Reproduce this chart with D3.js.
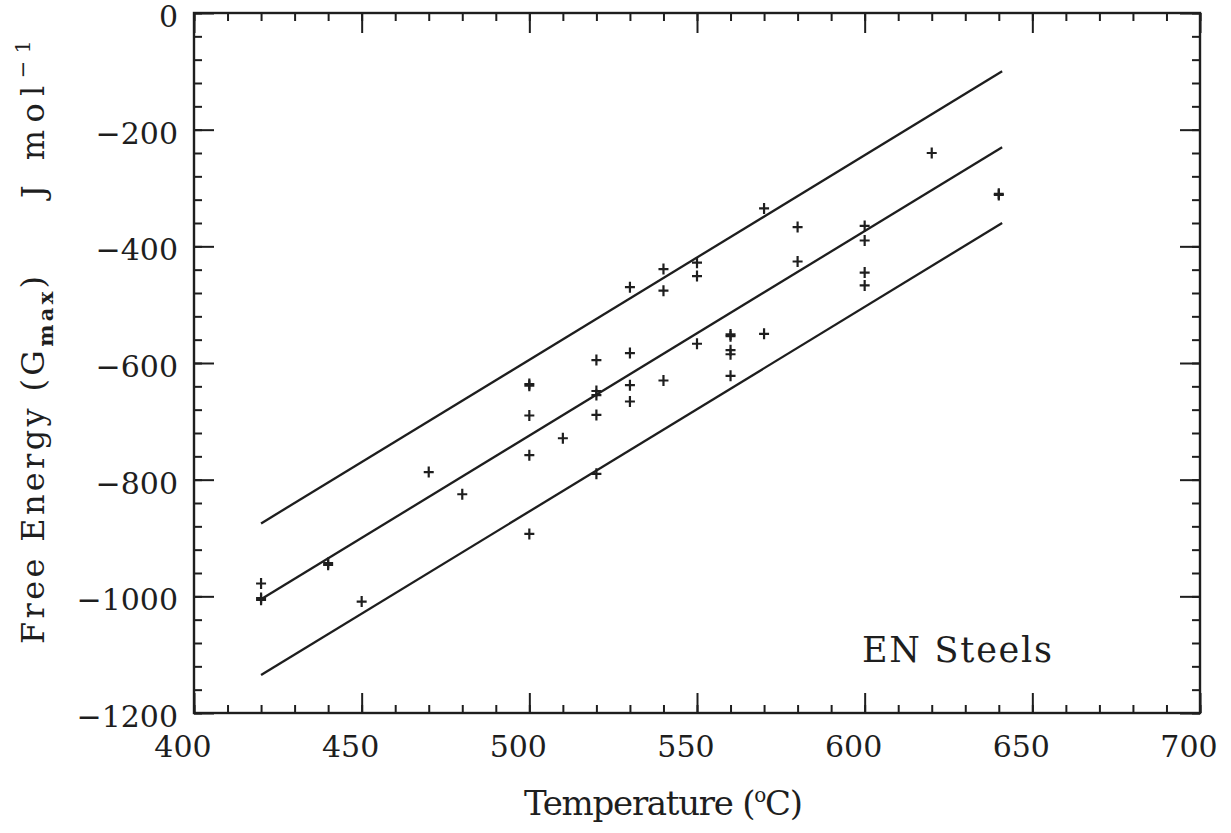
<!DOCTYPE html>
<html>
<head>
<meta charset="utf-8">
<script src="https://cdn.jsdelivr.net/npm/d3@7"></script>
<style>
  body { margin: 0; background: #fff; }
  svg text { font-family: "DejaVu Serif", "Liberation Serif", serif; fill: #1e1e1e; }
</style>
</head>
<body>
<svg id="chart" width="1231" height="833"></svg>
<script>
// Measured maximum free energy vs. transformation temperature, EN steels
const temperature = [420, 420, 420, 440, 440, 450, 470, 480, 500, 500, 500, 500, 500, 510,
  520, 520, 520, 520, 520, 530, 530, 530, 530, 540, 540, 540, 550, 550, 550,
  560, 560, 560, 560, 560, 570, 570, 580, 580, 600, 600, 600, 600, 620, 640, 640];
const freeEnergy = [-978, -1006, -1003, -946, -943, -1009, -787, -825, -636, -639, -690, -758, -893, -729,
  -595, -648, -655, -689, -790, -470, -583, -638, -666, -439, -476, -630, -428, -451, -567,
  -551, -554, -578, -585, -622, -335, -550, -367, -426, -365, -390, -445, -467, -240, -312, -310];

// Fitted line and its upper / lower bounds
const fitT = [420, 641];
const fitUpper = [-875, -100];
const fitMid = [-1005, -230];
const fitLower = [-1135, -360];

// Axis ticks
const xMajor = [400, 450, 500, 550, 600, 650, 700];
const xMinor = d3.range(400, 701, 10);
const yMajor = [0, -200, -400, -600, -800, -1000, -1200];
const yMinor = d3.range(-1200, 1, 40);

const svg = d3.select("#chart");
const plotL = 194, plotR = 1200, plotT = 13, plotB = 713;

const x = d3.scaleLinear().domain([400, 700]).range([plotL, plotR]);
const y = d3.scaleLinear().domain([-1200, 0]).range([plotB, plotT]);

const ink = "#1e1e1e";
const fmt = d => d < 0 ? "\u2212" + Math.abs(d) : String(d);

// Spread a text's letters so that it runs a given length
function spread(sel, length) {
  const node = sel.node();
  const n = node.textContent.length;
  const w = node.getComputedTextLength();
  sel.attr("letter-spacing", ((length - w) / (n - 1)).toFixed(2));
}

// Inward-pointing ticks on all four sides
function ticks(axis, vals, size, tx, ty) {
  const g = svg.append("g").attr("transform", `translate(${tx},${ty})`)
    .call(axis.tickValues(vals).tickSize(-size).tickFormat(""));
  g.select(".domain").remove();
  g.selectAll("line").attr("stroke", ink).attr("stroke-width", 2);
}
ticks(d3.axisBottom(x), xMinor, 8, 0, plotB);
ticks(d3.axisBottom(x), xMajor, 20, 0, plotB);
ticks(d3.axisTop(x), xMinor, 8, 0, plotT);
ticks(d3.axisTop(x), xMajor, 20, 0, plotT);
ticks(d3.axisLeft(y), yMinor, 8, plotL, 0);
ticks(d3.axisLeft(y), yMajor, 20, plotL, 0);
ticks(d3.axisRight(y), yMinor, 8, plotR, 0);
ticks(d3.axisRight(y), yMajor, 20, plotR, 0);

// Frame
svg.append("rect")
  .attr("x", plotL).attr("y", plotT)
  .attr("width", plotR - plotL).attr("height", plotB - plotT)
  .attr("fill", "none").attr("stroke", ink).attr("stroke-width", 2.4);

// Tick labels
svg.append("g").selectAll("text").data(xMajor).join("text")
  .attr("x", d => x(d) - 11).attr("y", plotB + 44)
  .attr("text-anchor", "middle").attr("font-size", 30)
  .text(fmt);
svg.append("g").selectAll("text").data(yMajor).join("text")
  .attr("x", plotL - 16).attr("y", d => y(d) + 14)
  .attr("text-anchor", "end").attr("font-size", 30)
  .text(fmt);

// Fit lines
const line = d3.line().x(d => x(d[0])).y(d => y(d[1]));
[fitUpper, fitMid, fitLower].forEach(vals => {
  svg.append("path")
    .attr("d", line(fitT.map((t, i) => [t, vals[i]])))
    .attr("fill", "none").attr("stroke", ink).attr("stroke-width", 2.3);
});

// Data points as plus markers
const pts = temperature.map((t, i) => [t, freeEnergy[i]]);
const mk = svg.append("g").attr("stroke", ink).attr("stroke-width", 2.2);
mk.selectAll("path").data(pts).join("path")
  .attr("d", d => {
    const cx = x(d[0]), cy = y(d[1]);
    return `M${cx - 5},${cy}H${cx + 5}M${cx},${cy - 5.5}V${cy + 5.5}`;
  });

// Annotation
const note = svg.append("text").attr("x", 862).attr("y", 662)
  .attr("font-size", 35).text("EN Steels");
spread(note, 190);

// Axis titles
const xt = svg.append("text").attr("x", 524).attr("y", 815)
  .attr("font-size", 34);
xt.append("tspan").text("Temperature (");
xt.append("tspan").attr("dy", -13).attr("font-size", 20).text("o");
xt.append("tspan").attr("dy", 13).text("C)");
spread(xt, 279);

const ytA = svg.append("text")
  .attr("transform", "translate(44,644) rotate(-90)")
  .attr("font-size", 32);
ytA.append("tspan").text("Free Energy (G");
ytA.append("tspan").attr("dy", 9).attr("font-size", 21).attr("font-weight", "bold").text("max");
ytA.append("tspan").attr("dy", -9).text(")");
spread(ytA, 368);

const ytB = svg.append("text")
  .attr("transform", "translate(44,198) rotate(-90)")
  .attr("font-size", 32);
ytB.append("tspan").text("J mol");
ytB.append("tspan").attr("dy", -14).attr("font-size", 21).text("\u22121");
spread(ytB, 158);
</script>
</body>
</html>
